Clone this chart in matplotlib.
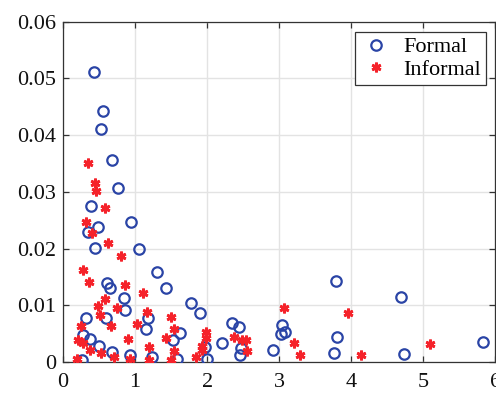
import matplotlib
matplotlib.use("Agg")
import matplotlib.pyplot as plt

formal_x = [0.426, 0.551, 0.527, 0.684, 0.767, 0.389, 0.944, 0.343, 0.482, 0.448,
            1.055, 1.309, 0.615, 0.656, 1.434, 0.851, 1.780, 0.856, 1.897, 0.315,
            0.597, 1.175, 2.349, 2.442, 1.156, 1.628, 0.282, 0.371, 1.531, 2.211,
            0.504, 2.474, 0.684, 2.918, 2.452, 0.930, 1.239, 1.586, 1.975, 1.994,
            0.260, 3.784, 4.695, 3.043, 3.025, 3.077, 3.807, 3.761, 4.728, 5.829]
formal_y = [0.0511, 0.0443, 0.0411, 0.0356, 0.0307, 0.0275, 0.0246, 0.0230, 0.0238, 0.0201,
            0.0199, 0.0159, 0.0139, 0.0130, 0.0130, 0.0112, 0.0104, 0.0091, 0.0087, 0.0077,
            0.0077, 0.0077, 0.0069, 0.0062, 0.0059, 0.0051, 0.0047, 0.0040, 0.0039, 0.0033,
            0.0029, 0.0025, 0.0018, 0.0022, 0.0013, 0.0012, 0.0008, 0.0005, 0.0027, 0.0005,
            0.0003, 0.0142, 0.0114, 0.0065, 0.0049, 0.0053, 0.0044, 0.0015, 0.0014, 0.0035]

informal_x = [0.351, 0.448, 0.454, 0.576, 0.315, 0.407, 0.624, 0.801, 0.273, 0.357,
              0.860, 1.106, 0.579, 0.482, 0.745, 1.166, 0.518, 0.250, 0.666, 1.031,
              0.906, 0.212, 0.273, 0.379, 0.523, 0.704, 0.930, 1.193, 1.189, 0.198,
              1.499, 1.536, 1.425, 1.536, 1.495, 1.984, 1.980, 1.933, 1.929, 1.842,
              2.373, 2.484, 2.544, 2.553, 3.063, 3.955, 3.202, 3.289, 4.140, 5.097]
informal_y = [0.0350, 0.0316, 0.0301, 0.0272, 0.0247, 0.0228, 0.0209, 0.0187, 0.0163, 0.0141,
              0.0135, 0.0122, 0.0111, 0.0098, 0.0096, 0.0088, 0.0082, 0.0064, 0.0064, 0.0067,
              0.0041, 0.0038, 0.0033, 0.0022, 0.0015, 0.0008, 0.0006, 0.0027, 0.0004, 0.0005,
              0.0079, 0.0058, 0.0043, 0.0019, 0.0004, 0.0053, 0.0042, 0.0029, 0.0021, 0.0009,
              0.0044, 0.0038, 0.0038, 0.0019, 0.0095, 0.0086, 0.0034, 0.0013, 0.0012, 0.0031]

x_ticks = [0, 1, 2, 3, 4, 5, 6]
y_ticks = [0, 0.01, 0.02, 0.03, 0.04, 0.05, 0.06]
y_tick_labels = ["0", "0.01", "0.02", "0.03", "0.04", "0.05", "0.06"]

plt.rcParams['font.family'] = ['Liberation Serif', 'DejaVu Serif']

fig = plt.figure(figsize=(4.96, 3.95), dpi=100)
W, H = 496, 395
ax = fig.add_axes([63 / W, (H - 362) / H, (495.4 - 63) / W, (362 - 21.7) / H])

blue = '#2A44A6'
red = '#F5222A'
ax.plot(formal_x, formal_y, linestyle='none', marker='o', markersize=7.5,
        markerfacecolor='none', markeredgecolor=blue, markeredgewidth=1.6,
        label='Formal', zorder=3)
ax.plot(informal_x, informal_y, linestyle='none', marker=(6, 2, 0), markersize=7,
        markeredgecolor=red, markerfacecolor=red, markeredgewidth=2.0,
        label='Informal', zorder=3)

ax.set_xlim(0, 6)
ax.set_ylim(0, 0.06)
ax.set_xticks(x_ticks)
ax.set_yticks(y_ticks)
ax.set_yticklabels(y_tick_labels)
ax.grid(True, color='#E3E3E3', linewidth=1.0, zorder=0)
ax.set_axisbelow(True)

for s in ax.spines.values():
    s.set_color('#333333')
    s.set_linewidth(0.9)
ax.tick_params(direction='in', length=4, width=0.9, color='#333333',
               top=True, right=True, labelsize=16, labelcolor='#111111')
ax.tick_params(axis='x', pad=8)
ax.tick_params(axis='y', pad=5)

leg = ax.legend(loc='upper right', bbox_to_anchor=(485.7 / W, (H - 32.3) / H),
                bbox_transform=fig.transFigure, fontsize=16, frameon=True,
                fancybox=False, edgecolor='#333333', framealpha=1,
                borderpad=0.2, handletextpad=0.5, labelspacing=0.1,
                handlelength=1.5, borderaxespad=0)
leg.get_frame().set_linewidth(0.9)

fig.savefig('out.png', dpi=100)
